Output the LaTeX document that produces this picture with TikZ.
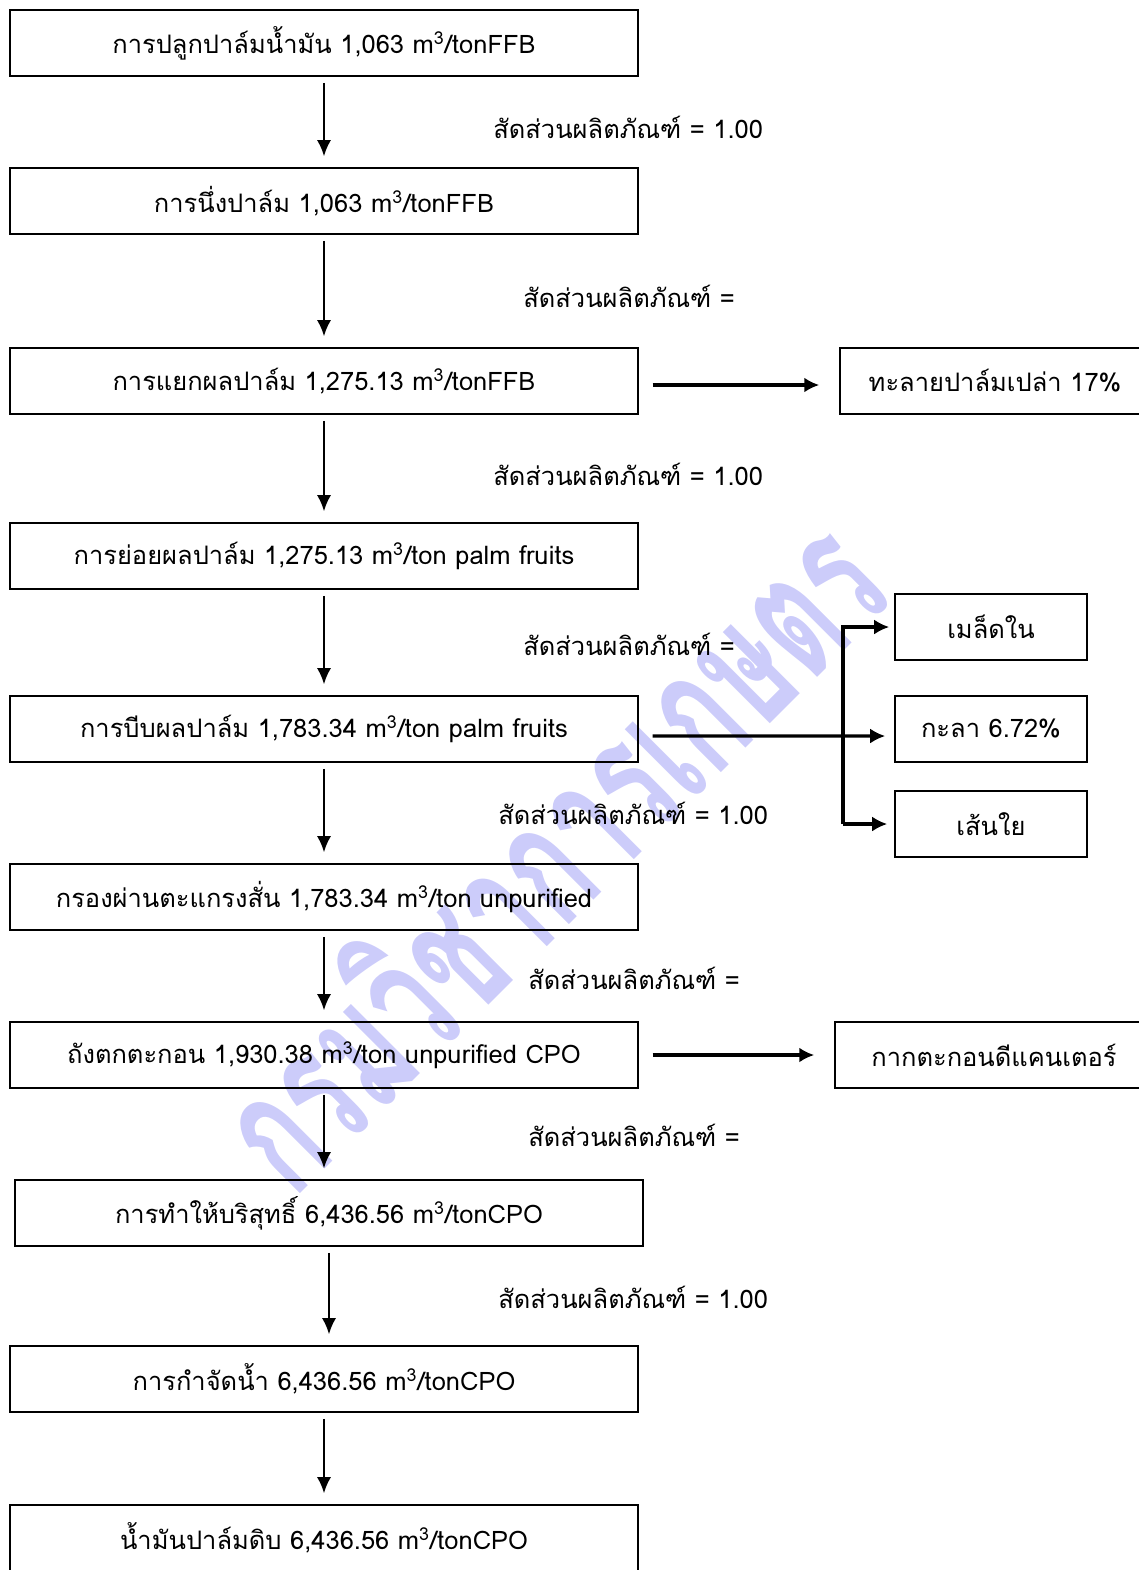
\documentclass[tikz,border=0pt]{standalone}
\usepackage{fontspec}
\setmainfont[Script=Thai]{Loma}
\usetikzlibrary{arrows.meta}
\definecolor{wmblue}{RGB}{204,204,250}
\tikzset{
  stepbox/.style={draw, line width=0.9pt, minimum width=12.56cm, minimum height=1.32cm,
    inner sep=0pt, font=\fontsize{14.5}{17}\selectfont},
  sidebox/.style={draw, line width=0.9pt, minimum height=1.32cm, inner sep=0pt,
    font=\fontsize{14.5}{17}\selectfont},
  ratio/.style={anchor=west, inner sep=0pt, font=\fontsize{14.5}{17}\selectfont},
  down/.style={-{Latex[length=0.32cm,width=0.28cm]}, line width=1.1pt,
    shorten <=0.12cm, shorten >=0.22cm},
  side/.style={-{Latex[length=0.3cm,width=0.3cm]}, line width=1.8pt},
}
\begin{document}
\begin{tikzpicture}[x=0.02cm,y=-0.02cm]
\useasboundingbox (0,0) rectangle (1139,1570);
% watermark
\node[rotate=45, text=wmblue, font=\fontsize{100}{110}\selectfont\bfseries] (stamp) at (545,848) {\scalebox{0.6}[1]{กรมวิชาการเกษตร}};
% main steps
\node[stepbox] (plant) at (324,43) {การปลูกปาล์มน้ำมัน 1,063 m\textsuperscript{3}/tonFFB};
\node[stepbox] (steam) at (324,201) {การนึ่งปาล์ม 1,063 m\textsuperscript{3}/tonFFB};
\node[stepbox] (thresh) at (324,381) {การแยกผลปาล์ม 1,275.13 m\textsuperscript{3}/tonFFB};
\node[stepbox] (digest) at (324,556) {การย่อยผลปาล์ม 1,275.13 m\textsuperscript{3}/ton palm fruits};
\node[stepbox] (press) at (324,729) {การบีบผลปาล์ม 1,783.34 m\textsuperscript{3}/ton palm fruits};
\node[stepbox] (screen) at (324,897) {กรองผ่านตะแกรงสั่น 1,783.34 m\textsuperscript{3}/ton unpurified};
\node[stepbox] (settle) at (324,1055) {ถังตกตะกอน 1,930.38 m\textsuperscript{3}/ton unpurified CPO};
\node[stepbox] (purify) at (329,1213) {การทำให้บริสุทธิ์ 6,436.56 m\textsuperscript{3}/tonCPO};
\node[stepbox] (dry) at (324,1379) {การกำจัดน้ำ 6,436.56 m\textsuperscript{3}/tonCPO};
\node[stepbox] (cpo) at (324,1538) {น้ำมันปาล์มดิบ 6,436.56 m\textsuperscript{3}/tonCPO};
% by-products
\node[sidebox, minimum width=6.2cm] (efb) at (995,381) {ทะลายปาล์มเปล่า 17\%};
\node[sidebox, minimum width=3.84cm] (kernel) at (991,627) {เมล็ดใน};
\node[sidebox, minimum width=3.84cm] (shell) at (991,729) {กะลา 6.72\%};
\node[sidebox, minimum width=3.84cm] (fibre) at (991,824) {เส้นใย};
\node[sidebox, minimum width=6.36cm] (cake) at (994,1055) {กากตะกอนดีแคนเตอร์};
% ratios
\node[ratio] (r1) at (493,127) {สัดส่วนผลิตภัณฑ์ = 1.00};
\node[ratio] (r2) at (523,296) {สัดส่วนผลิตภัณฑ์ =};
\node[ratio] (r3) at (493,474) {สัดส่วนผลิตภัณฑ์ = 1.00};
\node[ratio] (r4) at (523,644) {สัดส่วนผลิตภัณฑ์ =};
\node[ratio] (r5) at (498,813) {สัดส่วนผลิตภัณฑ์ = 1.00};
\node[ratio] (r6) at (528,978) {สัดส่วนผลิตภัณฑ์ =};
\node[ratio] (r7) at (528,1135) {สัดส่วนผลิตภัณฑ์ =};
\node[ratio] (r8) at (498,1297) {สัดส่วนผลิตภัณฑ์ = 1.00};
% flow
\draw[down] (plant.south) -- (plant.south |- steam.north);
\draw[down] (steam.south) -- (steam.south |- thresh.north);
\draw[down] (thresh.south) -- (thresh.south |- digest.north);
\draw[down] (digest.south) -- (digest.south |- press.north);
\draw[down] (press.south) -- (press.south |- screen.north);
\draw[down] (screen.south) -- (screen.south |- settle.north);
\draw[down] (settle.south) -- (settle.south |- purify.north);
\draw[down] (purify.south) -- (purify.south |- dry.north);
\draw[down] (dry.south) -- (dry.south |- cpo.north);
\draw[side, shorten <=0.28cm, shorten >=0.4cm] ([yshift=-0.08cm]thresh.east) -- ([yshift=-0.08cm]efb.west);
\draw[side, shorten <=0.28cm, shorten >=0.4cm] (settle.east) -- (cake.west);
\coordinate (fork) at (843,736);
\draw[side, shorten <=0.28cm, shorten >=0.18cm] ([yshift=-0.14cm]press.east) -- (fork -| shell.west);
\draw[side, shorten >=0.1cm] (fork |- fibre.west) -- (fork |- kernel.west) -- (kernel.west);
\draw[side, shorten >=0.14cm] (fork |- fibre.west) -- (fibre.west);
\end{tikzpicture}
\end{document}
